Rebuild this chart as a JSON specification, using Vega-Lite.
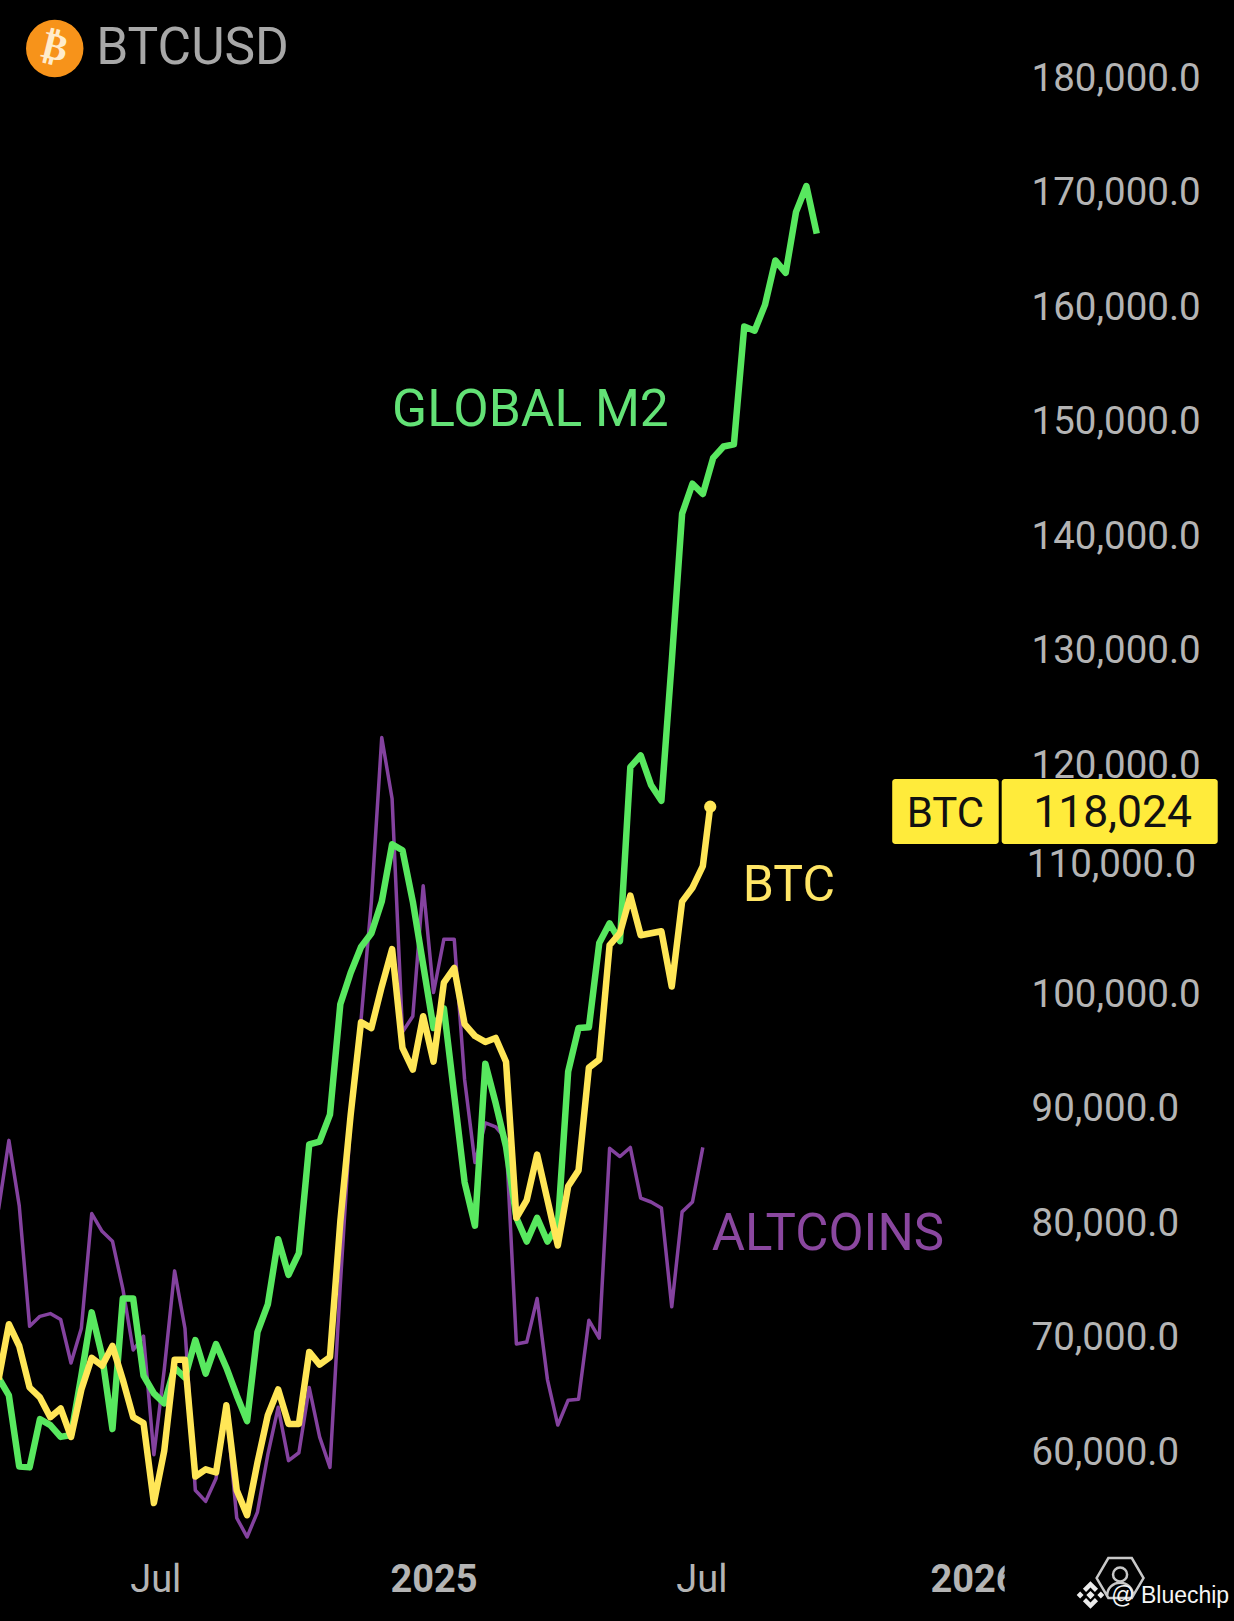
{"$schema":"https://vega.github.io/schema/vega-lite/v6.json","width":1234,"height":1621,"autosize":"none","padding":0,"background":"#000000","config":{"view":{"stroke":null},"font":"Roboto"},
"datasets":{"weekly":[
{"d":"2024-03-11","m2":66510,"btc":66338,"alt":81190},{"d":"2024-03-18","m2":64956,"btc":71173,"alt":87235},{"d":"2024-03-25","m2":58739,"btc":69274,"alt":81535},{"d":"2024-04-01","m2":58670,"btc":65647,"alt":71000},{"d":"2024-04-08","m2":62884,"btc":64783,"alt":71864},{"d":"2024-04-15","m2":62365,"btc":63057,"alt":72106},{"d":"2024-04-22","m2":61329,"btc":63816,"alt":71588},{"d":"2024-04-29","m2":61502,"btc":61329,"alt":67788},{"d":"2024-05-06","m2":66683,"btc":65474,"alt":70828},{"d":"2024-05-13","m2":72209,"btc":68237,"alt":80844},{"d":"2024-05-20","m2":68410,"btc":67547,"alt":79290},{"d":"2024-05-27","m2":62021,"btc":69274,"alt":78427},{"d":"2024-06-03","m2":73418,"btc":66338,"alt":74282},{"d":"2024-06-10","m2":73418,"btc":63057,"alt":68928},{"d":"2024-06-17","m2":66683,"btc":62538,"alt":70137},{"d":"2024-06-24","m2":65129,"btc":55560,"alt":59775},{"d":"2024-07-01","m2":64265,"btc":60121,"alt":67201},{"d":"2024-07-08","m2":67374,"btc":68065,"alt":75836},{"d":"2024-07-15","m2":66510,"btc":68065,"alt":70828},{"d":"2024-07-22","m2":69792,"btc":57875,"alt":56666},{"d":"2024-07-29","m2":66856,"btc":58497,"alt":55699},{"d":"2024-08-05","m2":69446,"btc":58221,"alt":57703},{"d":"2024-08-12","m2":67374,"btc":64093,"alt":63920},{"d":"2024-08-19","m2":64956,"btc":56666,"alt":54249},{"d":"2024-08-26","m2":62711,"btc":54490,"alt":52591},{"d":"2024-09-02","m2":70482,"btc":59084,"alt":54766},{"d":"2024-09-09","m2":72900,"btc":63229,"alt":59775},{"d":"2024-09-16","m2":78599,"btc":65474,"alt":63920},{"d":"2024-09-23","m2":75491,"btc":62469,"alt":59257},{"d":"2024-09-30","m2":77390,"btc":62469,"alt":59948},{"d":"2024-10-07","m2":86889,"btc":68755,"alt":65647},{"d":"2024-10-14","m2":87131,"btc":67650,"alt":61329},{"d":"2024-10-21","m2":89480,"btc":68307,"alt":58670},{"d":"2024-10-28","m2":99118,"btc":80154,"alt":74627},{"d":"2024-11-04","m2":101880,"btc":89479,"alt":89134},{"d":"2024-11-11","m2":104125,"btc":97564,"alt":97737},{"d":"2024-11-18","m2":105333,"btc":97046,"alt":108096},{"d":"2024-11-25","m2":108096,"btc":100672,"alt":122426},{"d":"2024-12-02","m2":113102,"btc":103952,"alt":117074},{"d":"2024-12-09","m2":112585,"btc":95320,"alt":96700},{"d":"2024-12-16","m2":108096,"btc":93420,"alt":98082},{"d":"2024-12-23","m2":102571,"btc":98082,"alt":109477},{"d":"2024-12-30","m2":97046,"btc":94111,"alt":100154},{"d":"2025-01-06","m2":98772,"btc":101017,"alt":104815},{"d":"2025-01-13","m2":91176,"btc":102295,"alt":104815},{"d":"2025-01-20","m2":83579,"btc":97391,"alt":92557},{"d":"2025-01-27","m2":79781,"btc":96355,"alt":85306},{"d":"2025-02-03","m2":93938,"btc":95837,"alt":88759},{"d":"2025-02-10","m2":90485,"btc":96183,"alt":88414},{"d":"2025-02-17","m2":86687,"btc":94111,"alt":87378},{"d":"2025-02-24","m2":80472,"btc":80472,"alt":69446},{"d":"2025-03-03","m2":78400,"btc":82025,"alt":69619},{"d":"2025-03-10","m2":80472,"btc":85996,"alt":73418},{"d":"2025-03-17","m2":78400,"btc":82025,"alt":66338},{"d":"2025-03-24","m2":79781,"btc":78055,"alt":62365},{"d":"2025-03-31","m2":93248,"btc":83234,"alt":64541},{"d":"2025-04-07","m2":97046,"btc":84615,"alt":64611},{"d":"2025-04-14","m2":97115,"btc":93593,"alt":71519},{"d":"2025-04-21","m2":104470,"btc":94284,"alt":69964},{"d":"2025-04-28","m2":106197,"btc":104297,"alt":86544},{"d":"2025-05-05","m2":104643,"btc":105333,"alt":85823},{"d":"2025-05-12","m2":119836,"btc":108614,"alt":86618},{"d":"2025-05-19","m2":120872,"btc":105161,"alt":82198},{"d":"2025-05-26","m2":118282,"btc":105333,"alt":81853},{"d":"2025-06-02","m2":116901,"btc":105506,"alt":81335},{"d":"2025-06-09","m2":129072,"btc":100672,"alt":72702},{"d":"2025-06-16","m2":141984,"btc":108096,"alt":80989},{"d":"2025-06-23","m2":144602,"btc":109304,"alt":81853},{"d":"2025-06-30","m2":143699,"btc":111200,"alt":86618},{"d":"2025-07-05","m2":null,"btc":116383,"alt":null},{"d":"2025-07-07","m2":146860,"btc":null,"alt":null},{"d":"2025-07-14","m2":147853,"btc":null,"alt":null},{"d":"2025-07-21","m2":148033,"btc":null,"alt":null},{"d":"2025-07-28","m2":158326,"btc":null,"alt":null},{"d":"2025-08-04","m2":157965,"btc":null,"alt":null},{"d":"2025-08-11","m2":160222,"btc":null,"alt":null},{"d":"2025-08-18","m2":164105,"btc":null,"alt":null},{"d":"2025-08-25","m2":163023,"btc":null,"alt":null},{"d":"2025-09-01","m2":168349,"btc":null,"alt":null},{"d":"2025-09-08","m2":170606,"btc":null,"alt":null},{"d":"2025-09-15","m2":166452,"btc":null,"alt":null}]},
"transform":[],
"encoding":{"x":{"field":"d","type":"temporal","title":null,"scale":{"domain":[{"year":2024,"month":"mar","date":12},{"year":2026,"month":"jun","date":24}]},"axis":{"orient":"bottom","values":[{"year":2024,"month":"jul","date":1},{"year":2025,"month":"jan","date":1},{"year":2025,"month":"jul","date":1},{"year":2026,"month":"jan","date":1}],"labelExpr":"month(datum.value)==6?'Jul':timeFormat(datum.value,'%Y')","domain":false,"ticks":false,"grid":false,"labelPadding":-41,"labelBaseline":"middle","labelFont":"Roboto","labelFontSize":38,"labelColor":"#b4b4b4","labelFontWeight":{"condition":{"test":"month(datum.value)==0","value":"bold"},"value":"normal"},"labelOffset":{"condition":{"test":"year(datum.value)==2024","value":-9},"value":-3},"labelOverlap":false,"labelBound":false,"labelFlush":false}},
"y":{"field":"v","type":"quantitative","title":null,"scale":{"domain":[45249,186858],"nice":false,"zero":false},"axis":{"orient":"left","values":[60000,70000,80000,90000,100000,120000,130000,140000,150000,160000,170000,180000],"format":",.1f","domain":false,"ticks":false,"grid":false,"labelAlign":"left","labelBaseline":"middle","labelPadding":-1031,"labelFont":"Roboto","labelFontSize":38.5,"labelColor":"#b4b4b4","labelOverlap":false,"labelBound":false,"labelFlush":false}}},
"layer":[
{"data":{"name":"weekly"},"transform":[{"filter":"datum.alt!=null"}],"mark":{"type":"line","stroke":"#84429f","strokeWidth":3.5,"strokeJoin":"round"},"encoding":{"y":{"field":"alt","type":"quantitative"}}},
{"data":{"name":"weekly"},"transform":[{"filter":"datum.m2!=null"}],"mark":{"type":"line","stroke":"#58e85f","strokeWidth":6.5,"strokeJoin":"round"},"encoding":{"y":{"field":"m2","type":"quantitative"}}},
{"data":{"name":"weekly"},"transform":[{"filter":"datum.btc!=null"}],"mark":{"type":"line","stroke":"#ffe657","strokeWidth":6.5,"strokeJoin":"round"},"encoding":{"y":{"field":"btc","type":"quantitative"}}},
{"data":{"values":[{"d":"2025-07-05","v":116383}]},"mark":{"type":"point","filled":true,"shape":"circle","size":150,"color":"#ffe657","opacity":1}},
{"data":{"values":[{"d":"2025-11-05","d2":"2026-01-16","v":118804,"v2":113125},{"d":"2026-01-18","d2":"2026-06-13","v":118804,"v2":113125}]},"mark":{"type":"rect","color":"#ffeb3b","cornerRadius":3},"encoding":{"x2":{"field":"d2"},"y2":{"field":"v2"}}},
{"data":{"values":[{"d":"2026-01-20","d2":"2026-02-20","v":45249,"v2":52325}]},"mark":{"type":"rect","color":"#000000"},"encoding":{"x2":{"field":"d2"},"y2":{"field":"v2"}}},
{"data":{"values":[{"d":"2025-12-11","v":115745,"t":"BTC"}]},"mark":{"type":"text","font":"Roboto","fontSize":42,"color":"#111111","align":"center","baseline":"middle"},"encoding":{"text":{"field":"t"}}},
{"data":{"values":[{"d":"2026-04-03","v":115745,"t":"118,024"}]},"mark":{"type":"text","font":"Roboto","fontSize":44.5,"color":"#111111","align":"center","baseline":"middle"},"encoding":{"text":{"field":"t"}}},
{"data":{"values":[{"d":"2026-02-04","v":111285,"t":"110,000.0"}]},"mark":{"type":"text","font":"Roboto","fontSize":38.5,"color":"#b4b4b4","align":"left","baseline":"middle"},"encoding":{"text":{"field":"t"}}},
{"data":{"values":[{"d":"2024-12-02","v":150930,"t":"GLOBAL M2"}]},"mark":{"type":"text","font":"Roboto","fontSize":51.5,"color":"#63e276","align":"left","baseline":"middle"},"encoding":{"text":{"field":"t"}}},
{"data":{"values":[{"d":"2025-07-27","v":109490,"t":"BTC"}]},"mark":{"type":"text","font":"Roboto","fontSize":50,"color":"#ffe566","align":"left","baseline":"middle"},"encoding":{"text":{"field":"t"}}},
{"data":{"values":[{"d":"2025-07-06","v":79000,"t":"ALTCOINS"}]},"mark":{"type":"text","font":"Roboto","fontSize":51,"color":"#8a479f","align":"left","baseline":"middle"},"encoding":{"text":{"field":"t"}}},
{"data":{"values":[{"d":"2024-04-18","v":182621}]},"mark":{"type":"point","filled":true,"shape":"circle","size":3300,"color":"#f7931a","opacity":1}},
{"data":{"values":[{"d":"2024-04-18","v":182621,"t":"₿"}]},"mark":{"type":"text","font":"DejaVu Sans","fontSize":38,"fontWeight":"bold","color":"#ffeccc","angle":14,"align":"center","baseline":"middle"},"encoding":{"text":{"field":"t"}}},
{"data":{"values":[{"d":"2024-05-16","v":182540,"t":"BTCUSD"}]},"mark":{"type":"text","font":"Roboto","fontSize":51.5,"color":"#a8a8a8","align":"left","baseline":"middle"},"encoding":{"text":{"field":"t"}}},
{"data":{"values":[{"d":"2026-04-08","v":49004}]},"mark":{"type":"point","filled":false,"opacity":1,"stroke":"#c8c8c8","strokeWidth":2.5,"size":2200,"shape":"M-1,0L-0.5,-0.85L0.5,-0.85L1,0L0.5,0.85L-0.5,0.85ZM0.3,-0.15A0.3,0.3 0 1 1 -0.3,-0.15A0.3,0.3 0 1 1 0.3,-0.15ZM-0.55,0.75A0.55,0.55 0 0 1 0.55,0.75"}},
{"data":{"values":[{"d":"2026-03-19","v":47517}]},"mark":{"type":"point","filled":true,"opacity":1,"color":"#ececec","size":760,"shape":"M0,-0.3L0.3,0L0,0.3L-0.3,0ZM-1,0L-0.75,-0.25L-0.5,0L-0.75,0.25ZM1,0L0.75,-0.25L0.5,0L0.75,0.25ZM0,-1L0.55,-0.45L0.32,-0.22L0,-0.54L-0.32,-0.22L-0.55,-0.45ZM0,1L0.55,0.45L0.32,0.22L0,0.54L-0.32,0.22L-0.55,0.45Z"}},
{"data":{"values":[{"d":"2026-04-02","v":47430,"t":"@ Bluechip"}]},"mark":{"type":"text","font":"Liberation Sans","fontSize":23,"color":"#f5f5f5","align":"left","baseline":"middle"},"encoding":{"text":{"field":"t"}}}
]}
